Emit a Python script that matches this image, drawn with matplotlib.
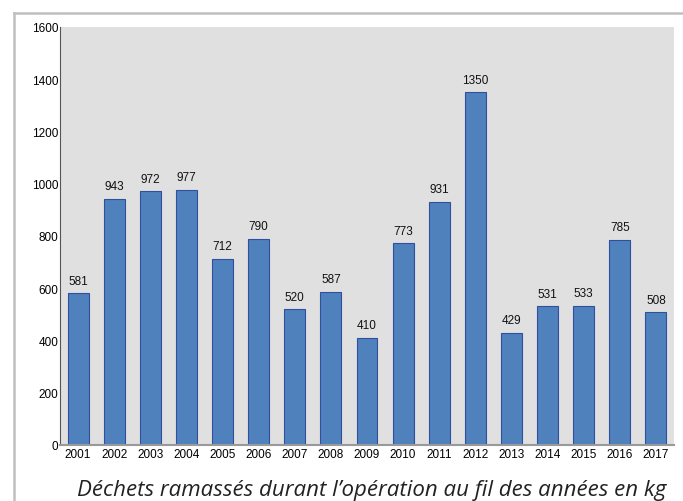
import matplotlib.pyplot as plt
from matplotlib.lines import Line2D

years = [str(y) for y in range(2001, 2018)]
values = [581, 943, 972, 977, 712, 790, 520, 587, 410, 773, 931, 1350, 429, 531, 533, 785, 508]
yticks = [0, 200, 400, 600, 800, 1000, 1200, 1400, 1600]
title = "Déchets ramassés durant l’opération au fil des années en kg"

W, H = 683, 502
fig = plt.figure(figsize=(W/100, H/100), dpi=100)
fig.patch.set_facecolor('white')

# outer frame lines
fig.add_artist(Line2D([14/W, 14/W], [0, 1-14/H], color='#c0c0c0', lw=1.8, transform=fig.transFigure))
fig.add_artist(Line2D([14/W, 1], [1-14/H, 1-14/H], color='#c0c0c0', lw=1.8, transform=fig.transFigure))

ax = fig.add_axes([60/W, 1-446/H, (674-60)/W, (446-28)/H])
ax.set_facecolor('#e0e0e0')
x = range(len(years))
bars = ax.bar(x, values, width=0.58, color='#4f81bd', edgecolor='#2f4f9f', linewidth=0.8, zorder=2)
for xi, v in zip(x, values):
    ax.text(xi, v + 25, str(v), ha='center', va='bottom', fontsize=8.5, family='Liberation Sans', color='#111')

ax.set_xlim(-0.5, len(years) - 0.5)
ax.set_ylim(0, 1600)
ax.set_yticks(yticks)
ax.set_yticklabels([str(t) for t in yticks], fontsize=8.5, family='Liberation Sans')
ax.set_xticks(list(x))
ax.set_xticklabels(years, fontsize=8.5, family='Liberation Sans')
ax.tick_params(axis='y', length=0, pad=1)
ax.tick_params(axis='x', length=0, pad=2)
for s in ['top', 'right']:
    ax.spines[s].set_visible(False)
ax.spines['left'].set_color('#555555')
ax.spines['left'].set_linewidth(0.8)
ax.spines['bottom'].set_color('#999999')
ax.spines['bottom'].set_linewidth(1.5)

fig.text(372/W, 1-491/H, title, ha='center', va='center', fontsize=16,
         style='italic', family='Open Sans', color='#222222')

fig.savefig('out.png', dpi=100)
